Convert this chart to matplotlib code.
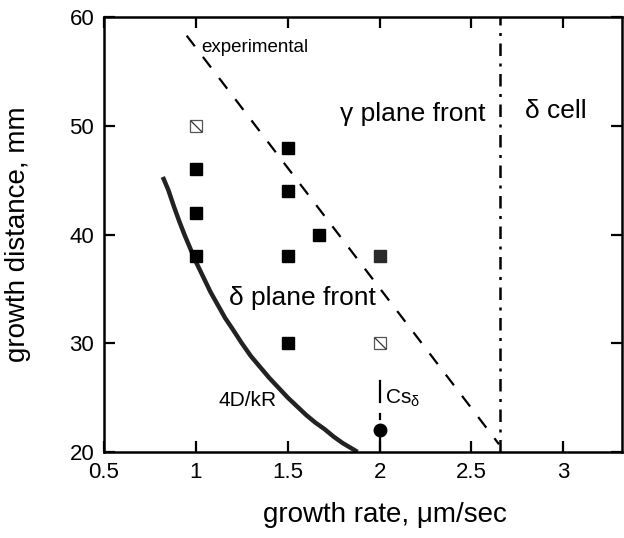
import numpy as np
import matplotlib.pyplot as plt
from matplotlib.path import Path

plt.rcParams['font.family'] = ['Liberation Sans', 'DejaVu Sans']
plt.rcParams['mathtext.fontset'] = 'custom'
plt.rcParams['mathtext.rm'] = 'Liberation Sans'
plt.rcParams['mathtext.it'] = 'Liberation Sans:italic'

# filled squares (delta plane front observations)
filled_x = [1.0, 1.0, 1.0, 1.5, 1.5, 1.5, 1.5, 1.67]
filled_y = [46, 42, 38, 48, 44, 38, 30, 40]
# grey square
grey_x = [2.0]
grey_y = [38]
# hatched open squares
hatched_x = [1.0, 2.0]
hatched_y = [50, 30]
# Cs delta point
cs_x = [2.0]
cs_y = [22]

# 4D/kR curve
curve_x = [0.82, 0.85, 0.88, 0.91, 0.94, 0.97, 1.0, 1.04, 1.08, 1.12, 1.16,
           1.2, 1.25, 1.3, 1.35, 1.4, 1.45, 1.5, 1.55, 1.6, 1.65, 1.7,
           1.75, 1.8, 1.84, 1.88]
curve_y = [45.3, 44.1, 42.6, 41.2, 39.9, 38.7, 37.5, 36.1, 34.7, 33.5, 32.3,
           31.3, 30.0, 28.8, 27.8, 26.8, 25.9, 25.0, 24.2, 23.4, 22.7, 22.1,
           21.4, 20.8, 20.4, 20.0]

# experimental boundary
exp_x = [0.95, 2.65]
exp_y = [58.3, 20.7]

# delta cell boundary
cell_x = [2.655, 2.655]
cell_y = [20, 60]

xticks = [0.5, 1, 1.5, 2, 2.5, 3]
xticklabels = ['0.5', '1', '1.5', '2', '2.5', '3']
yticks = [20, 30, 40, 50, 60]

fig = plt.figure(figsize=(6.24, 5.38), dpi=100)
ax = fig.add_axes([0.1667, 0.16, 0.8303, 0.808])

ax.plot(curve_x, curve_y, color='#222222', lw=3.2, solid_capstyle='butt')
ax.plot(exp_x, exp_y, color='black', lw=1.6, dashes=(6, 6))
ax.plot(cell_x, cell_y, color='black', lw=1.8, dashes=(5, 3, 1.2, 3))

# Cs marker line
ax.plot([2.0, 2.0], [20, 22], color='black', lw=1.6)
ax.plot([2.0, 2.0], [23.0, 23.5], color='black', lw=1.6)
ax.plot([2.0, 2.0], [24.6, 26.5], color='black', lw=1.6)
ax.plot(cs_x, cs_y, 'o', color='black', ms=9)

ax.plot(filled_x, filled_y, 's', color='black', ms=9)
ax.plot(grey_x, grey_y, 's', color='#2a2a2a', ms=9)
diag = Path([(-1, 1), (1, -1)], [Path.MOVETO, Path.LINETO])
ax.plot(hatched_x, hatched_y, 's', mfc='white', mec='#555555', mew=0.9, ms=9)
ax.plot(hatched_x, hatched_y, marker=diag, ls='none', mec='#333333', mew=0.9, ms=8)

ax.text(1.03, 57.2, 'experimental', fontsize=13.5, va='center', ha='left')
ax.text(2.18, 51.1, 'γ plane front', fontsize=19, va='center', ha='center')
ax.text(2.96, 51.4, 'δ cell', fontsize=19, va='center', ha='center')
ax.text(1.58, 34.2, 'δ plane front', fontsize=19, va='center', ha='center')
ax.text(1.28, 24.7, '4D/kR', fontsize=15, va='center', ha='center')
ax.text(2.03, 24.9, 'Cs$_\\mathrm{δ}$', fontsize=15, va='center', ha='left')

ax.set_xlim(0.5, 3.32)
ax.set_ylim(20, 60)
ax.set_xticks(xticks)
ax.set_xticklabels(xticklabels)
ax.set_yticks(yticks)
ax.tick_params(direction='in', length=8, width=1.6, labelsize=16,
               top=True, right=True, pad=7)
for s in ax.spines.values():
    s.set_linewidth(1.8)

ax.set_xlabel('growth rate, μm/sec', fontsize=20)
ax.xaxis.set_label_coords(0.542, -0.115)
ax.set_ylabel('growth distance, mm', fontsize=20)
ax.yaxis.set_label_coords(-0.14, 0.5)

fig.savefig('out.png', dpi=100)
